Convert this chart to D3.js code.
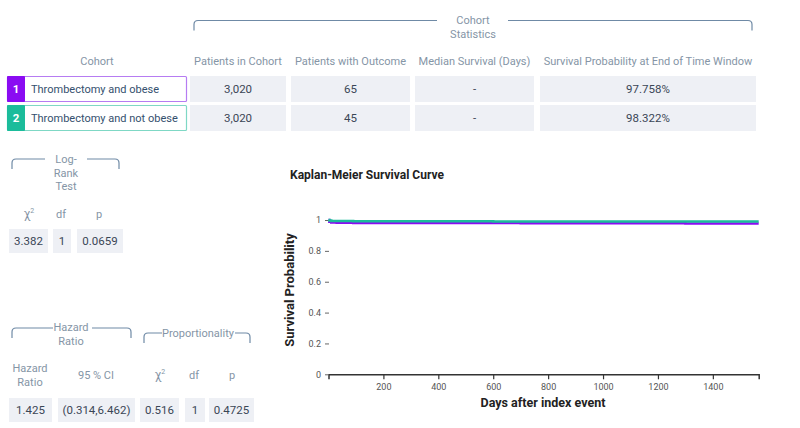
<!DOCTYPE html>
<html>
<meta charset="utf-8">
<head>
  <script src="https://d3js.org/d3.v7.min.js"></script>
  <style>
    body { margin: 0; background: #fff; }
    svg text { font-family: Roboto, "Noto Sans", sans-serif; }
  </style>
</head>
<body>
<svg id="page" width="800" height="428"></svg>
<script>
// ---- data ----
var cohortNames = ["Thrombectomy and obese", "Thrombectomy and not obese"]
var cohortColumns = ["Patients in Cohort", "Patients with Outcome", "Median Survival (Days)", "Survival Probability at End of Time Window"]
var cohortStats = [
  ["3,020", "65", "-", "97.758%"],
  ["3,020", "45", "-", "98.322%"]
]
var logRankValues = ["3.382", "1", "0.0659"]
var hazardValues = ["1.425", "(0.314,6.462)"]
var propValues = ["0.516", "1", "0.4725"]

// Kaplan-Meier steps (days, survival)
var kmDays1 = [0, 3, 10, 30, 90, 200, 400, 700, 1000, 1300, 1567]
var kmSurv1 = [1, 0.988, 0.984, 0.982, 0.981, 0.980, 0.980, 0.979, 0.979, 0.978, 0.978]
var kmDays2 = [0, 3, 10, 30, 90, 300, 600, 1000, 1300, 1567]
var kmSurv2 = [1, 0.996, 0.994, 0.993, 0.992, 0.992, 0.991, 0.991, 0.990, 0.990]
var xTicks = [200, 400, 600, 800, 1000, 1200, 1400]
var yTicks = [0, 0.2, 0.4, 0.6, 0.8, 1]
var maxDay = 1567

var colors = ["#8a0cf2", "#1bbc9b"]
var lightBorders = ["#b67cf2", "#7fd8c5"]
var headColor = "#8595a6", cellText = "#3a4656", cellFill = "#eef0f5", bracketColor = "#6f8aa6"

var svg = d3.select("#page")

// bracket with a gap for its label
function bracket(x0, x1, y, gap0, gap1) {
  var r = 4, drop = 10
  svg.append("path")
    .attr("d", `M${x0},${y + drop}V${y + r}Q${x0},${y} ${x0 + r},${y}H${gap0}M${gap1},${y}H${x1 - r}Q${x1},${y} ${x1},${y + r}V${y + drop}`)
    .attr("fill", "none").attr("stroke", bracketColor).attr("stroke-width", 1.2)
}
function label(x, y, lines, opts) {
  opts = opts || {}
  var t = svg.append("text").attr("x", x).attr("y", y)
    .attr("text-anchor", opts.anchor || "middle")
    .attr("font-size", opts.size || 11)
    .attr("fill", opts.color || headColor)
    .attr("font-weight", opts.weight || 400)
  lines.forEach(function(l, i) {
    t.append("tspan").attr("x", x).attr("dy", i == 0 ? 0 : (opts.lh || 14)).text(l)
  })
  return t
}
function chi(x, y) {
  var t = svg.append("text").attr("x", x).attr("y", y).attr("text-anchor", "middle")
    .attr("font-size", 12).attr("fill", headColor)
  t.append("tspan").text("χ")
  t.append("tspan").attr("font-size", 7).attr("dy", -5).text("2")
}
function cell(x, y, w, h, txt) {
  svg.append("rect").attr("x", x).attr("y", y).attr("width", w).attr("height", h).attr("fill", cellFill)
  svg.append("text").attr("x", x + w / 2).attr("y", y + h / 2 + 4).attr("text-anchor", "middle")
    .attr("font-size", 11.5).attr("fill", cellText).text(txt)
}

// ---- cohort statistics table ----
bracket(194, 752, 20.5, 437, 508)
label(473, 24, ["Cohort", "Statistics"])
label(97, 65, ["Cohort"])
var colBoxes = [[190, 96], [291, 119], [415, 119], [540, 216]]
cohortColumns.forEach(function(c, i) {
  label(colBoxes[i][0] + colBoxes[i][1] / 2, 65, [c])
})
var rowY = [76, 105], rowH = 26
cohortNames.forEach(function(name, r) {
  var y = rowY[r]
  svg.append("rect").attr("x", 7.5).attr("y", y + 0.5).attr("width", 179).attr("height", rowH - 1)
    .attr("fill", "#fff").attr("stroke", lightBorders[r]).attr("stroke-width", 1.2).attr("rx", 1)
  svg.append("rect").attr("x", 7).attr("y", y).attr("width", 18).attr("height", rowH).attr("fill", colors[r]).attr("rx", 1)
  svg.append("text").attr("x", 16).attr("y", y + rowH / 2 + 4).attr("text-anchor", "middle")
    .attr("font-size", 11.5).attr("font-weight", 700).attr("fill", "#fff").text(r + 1)
  svg.append("text").attr("x", 31).attr("y", y + rowH / 2 + 4)
    .attr("font-size", 11).attr("fill", "#34506e").text(name)
  cohortStats[r].forEach(function(v, i) {
    cell(colBoxes[i][0], y, colBoxes[i][1], rowH, v)
  })
})

// ---- log-rank test ----
bracket(12, 119, 159, 45, 87)
label(66, 163, ["Log-", "Rank", "Test"], {lh: 13.5})
chi(29, 218); label(61, 218, ["df"]); label(99, 218, ["p"])
var lrBoxes = [[9, 39], [53, 18], [77, 46]]
logRankValues.forEach(function(v, i) { cell(lrBoxes[i][0], 229, lrBoxes[i][1], 24, v) })

// ---- hazard ratio & proportionality ----
bracket(12, 131, 328, 53, 92)
label(71, 331, ["Hazard", "Ratio"])
bracket(144, 250, 333, 162, 235)
label(198, 337, ["Proportionality"])
label(30, 372, ["Hazard", "Ratio"])
label(96, 379, ["95 % CI"])
chi(160, 379); label(194, 379, ["df"]); label(232, 379, ["p"])
var hrBoxes = [[9, 43], [58, 77]], prBoxes = [[140, 39], [185, 20], [209, 45]]
hazardValues.forEach(function(v, i) { cell(hrBoxes[i][0], 398, hrBoxes[i][1], 24, v) })
propValues.forEach(function(v, i) { cell(prBoxes[i][0], 398, prBoxes[i][1], 24, v) })

// ---- Kaplan-Meier chart ----
var xScale = d3.scaleLinear().domain([0, maxDay]).range([328.5, 758.7])
var yScale = d3.scaleLinear().domain([0, 1]).range([374.3, 220])

svg.append("text").attr("x", 290).attr("y", 179).attr("font-size", 12).attr("font-weight", 700)
  .attr("fill", "#222").text("Kaplan-Meier Survival Curve")

var xAxis = svg.append("g").attr("transform", "translate(0,374.3)")
  .call(d3.axisBottom(xScale).tickValues(xTicks).tickFormat(d3.format("d")).tickSize(5).tickSizeOuter(5).tickPadding(4))
xAxis.select(".domain").attr("stroke", "#333").attr("stroke-width", 1.5)
xAxis.selectAll(".tick line").attr("stroke", "#333").attr("stroke-width", 1.2)
xAxis.selectAll("text").attr("font-size", 9).attr("fill", "#555").attr("font-family", "Roboto, sans-serif")

var yAxis = svg.append("g").attr("transform", "translate(329,0)")
  .call(d3.axisLeft(yScale).tickValues(yTicks).tickSize(4).tickPadding(4).tickFormat(d3.format("~g")))
yAxis.select(".domain").remove()
yAxis.selectAll(".tick line").attr("stroke", "#666")
yAxis.selectAll("text").attr("font-size", 9).attr("fill", "#555").attr("font-family", "Roboto, sans-serif")

svg.append("text").attr("transform", "translate(294,290) rotate(-90)").attr("text-anchor", "middle")
  .attr("font-size", 13).attr("font-weight", 700).attr("fill", "#222").text("Survival Probability")
svg.append("text").attr("x", 543).attr("y", 407).attr("text-anchor", "middle")
  .attr("font-size", 12.5).attr("font-weight", 700).attr("fill", "#222").text("Days after index event")

var line = d3.line().x(d => xScale(d[0])).y(d => yScale(d[1])).curve(d3.curveStepAfter)
var series = [d3.zip(kmDays1, kmSurv1), d3.zip(kmDays2, kmSurv2)]
series.forEach(function(s, i) {
  svg.append("path").datum(s).attr("d", line).attr("fill", "none")
    .attr("stroke", colors[i]).attr("stroke-width", 2.5)
})
</script>
</body>
</html>
